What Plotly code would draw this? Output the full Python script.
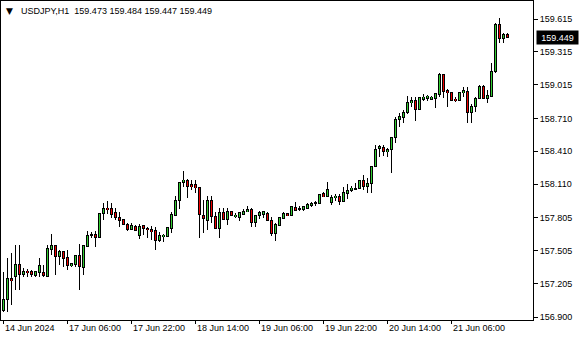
import plotly.graph_objects as go
import pandas as pd

# ---- data (USDJPY, H1) ----
open_ = [156.964, 157.064, 157.253, 157.267, 157.383, 157.289, 157.316, 157.313, 157.274, 157.304,
         157.304, 157.267, 157.517, 157.556, 157.450, 157.495, 157.444, 157.365, 157.383, 157.459,
         157.353, 157.547, 157.647, 157.654, 157.623, 157.845, 157.890, 157.890, 157.854, 157.811,
         157.787, 157.745, 157.699, 157.729, 157.647, 157.732, 157.705, 157.693, 157.684, 157.593,
         157.632, 157.632, 157.708, 157.829, 157.966, 158.127, 158.148, 158.103, 158.103, 158.082,
         157.829, 157.784, 157.966, 157.814, 157.708, 157.854, 157.790, 157.859, 157.814, 157.805,
         157.838, 157.859, 157.884, 157.763, 157.823, 157.836, 157.845, 157.784, 157.663, 157.738,
         157.799, 157.845, 157.829, 157.900, 157.890, 157.881, 157.890, 157.920, 157.936, 157.936,
         158.021, 157.996, 157.941, 157.987, 158.002, 157.951, 158.021, 158.054, 158.064, 158.073,
         158.148, 158.087, 158.118, 158.269, 158.437, 158.446, 158.406, 158.428, 158.537, 158.701,
         158.719, 158.761, 158.852, 158.877, 158.792, 158.883, 158.892, 158.883, 158.892, 158.929,
         159.105, 158.962, 158.944, 158.883, 158.871, 158.944, 158.959, 158.761, 158.816, 158.892,
         158.998, 158.892, 158.913, 159.135, 159.569, 159.439, 159.473]
high = [157.313, 157.435, 157.480, 157.556, 157.556, 157.344, 157.337, 157.328, 157.322, 157.435,
        157.374, 157.556, 157.656, 157.560, 157.511, 157.504, 157.511, 157.389, 157.459, 157.565,
        157.556, 157.684, 157.677, 157.684, 157.845, 157.936, 157.957, 157.936, 157.890, 157.854,
        157.793, 157.754, 157.754, 157.738, 157.745, 157.738, 157.723, 157.732, 157.723, 157.672,
        157.654, 157.723, 157.859, 158.005, 158.127, 158.230, 158.157, 158.148, 158.148, 158.085,
        157.966, 158.005, 158.005, 157.854, 157.890, 157.890, 157.890, 157.866, 157.845, 157.859,
        157.881, 157.914, 157.890, 157.829, 157.866, 157.866, 157.859, 157.814, 157.754, 157.805,
        157.859, 157.848, 157.905, 157.945, 157.911, 157.911, 157.936, 157.945, 157.957, 158.018,
        158.042, 158.127, 158.012, 158.021, 158.021, 158.087, 158.112, 158.094, 158.124, 158.148,
        158.194, 158.164, 158.276, 158.467, 158.467, 158.467, 158.437, 158.543, 158.719, 158.756,
        158.786, 158.913, 158.902, 158.902, 158.902, 158.932, 158.923, 158.913, 158.938, 159.126,
        159.114, 158.974, 158.953, 158.902, 158.953, 158.993, 158.993, 158.841, 158.902, 159.014,
        159.014, 158.968, 159.217, 159.581, 159.621, 159.490, 159.484]
low = [156.948, 156.948, 157.009, 157.146, 157.146, 157.267, 157.267, 157.267, 157.267, 157.267,
       157.267, 157.262, 157.465, 157.283, 157.374, 157.358, 157.328, 157.353, 157.358, 157.146,
       157.283, 157.541, 157.623, 157.541, 157.620, 157.784, 157.836, 157.805, 157.784, 157.723,
       157.738, 157.684, 157.690, 157.684, 157.611, 157.647, 157.617, 157.602, 157.511, 157.581,
       157.586, 157.630, 157.663, 157.823, 157.881, 158.087, 157.987, 158.057, 158.027, 157.623,
       157.663, 157.693, 157.759, 157.702, 157.623, 157.784, 157.738, 157.823, 157.805, 157.775,
       157.829, 157.856, 157.723, 157.723, 157.793, 157.799, 157.775, 157.641, 157.593, 157.735,
       157.793, 157.820, 157.823, 157.869, 157.866, 157.866, 157.884, 157.900, 157.914, 157.927,
       157.991, 157.991, 157.920, 157.960, 157.920, 157.948, 157.972, 158.042, 158.057, 158.070,
       158.057, 158.033, 158.033, 158.266, 158.360, 158.367, 158.360, 158.215, 158.488, 158.628,
       158.665, 158.749, 158.810, 158.688, 158.790, 158.871, 158.871, 158.877, 158.801, 158.902,
       158.892, 158.816, 158.871, 158.862, 158.868, 158.907, 158.665, 158.670, 158.770, 158.883,
       158.883, 158.847, 158.902, 159.126, 159.394, 159.399, 159.447]
close = [157.064, 157.253, 157.231, 157.383, 157.283, 157.319, 157.305, 157.283, 157.313, 157.374,
         157.274, 157.520, 157.556, 157.450, 157.495, 157.435, 157.365, 157.389, 157.459, 157.358,
         157.556, 157.641, 157.656, 157.623, 157.845, 157.890, 157.878, 157.836, 157.805, 157.781,
         157.745, 157.699, 157.732, 157.690, 157.723, 157.708, 157.693, 157.677, 157.593, 157.647,
         157.647, 157.714, 157.836, 157.966, 158.127, 158.148, 158.087, 158.087, 158.078, 157.836,
         157.799, 157.966, 157.814, 157.708, 157.854, 157.790, 157.859, 157.829, 157.829, 157.850,
         157.866, 157.884, 157.763, 157.829, 157.854, 157.859, 157.784, 157.663, 157.745, 157.805,
         157.845, 157.823, 157.905, 157.875, 157.881, 157.905, 157.927, 157.930, 157.945, 158.018,
         157.996, 158.066, 157.991, 158.002, 157.951, 158.033, 158.051, 158.073, 158.073, 158.145,
         158.087, 158.118, 158.270, 158.428, 158.452, 158.406, 158.428, 158.537, 158.701, 158.725,
         158.761, 158.852, 158.877, 158.792, 158.900, 158.902, 158.913, 158.902, 158.932, 159.105,
         158.953, 158.944, 158.874, 158.871, 158.944, 158.962, 158.761, 158.822, 158.892, 158.998,
         158.892, 158.922, 159.141, 159.569, 159.439, 159.473, 159.449]

symbol = "USDJPY,H1"
first_bar = "2024-06-14 14:00"
price_ticks = [156.900, 157.205, 157.505, 157.805, 158.110, 158.410, 158.710, 159.015, 159.315, 159.615]
time_tick_times = ["2024-06-14 14:00", "2024-06-17 06:00", "2024-06-17 22:00", "2024-06-18 14:00",
                   "2024-06-19 06:00", "2024-06-19 22:00", "2024-06-20 14:00", "2024-06-21 06:00"]
time_tick_labels = ["14 Jun 2024", "17 Jun 06:00", "17 Jun 22:00", "18 Jun 14:00",
                    "19 Jun 06:00", "19 Jun 22:00", "20 Jun 14:00", "21 Jun 06:00"]

# ---- build hourly trading bar times (skip weekend) ----
n = len(close)
times = []
t = pd.Timestamp(first_bar)
while len(times) < n:
    if t.weekday() < 5:
        times.append(t)
    t += pd.Timedelta(hours=1)
idx = list(range(n))
tick_idx = [times.index(pd.Timestamp(s)) for s in time_tick_times]

FONT = "Liberation Sans"
GREEN = "#32CD32"
RED = "#F00000"

W, H = 580, 340
ml, mr, mt, mb = 1, 47, 1, 20
bar_px = 4.0      # bar spacing in pixels
first_px = 3.5    # first bar centre
x0 = (ml - first_px) / bar_px
x1 = (W - mr - first_px) / bar_px
y_range = [156.873, 159.779]
px = (y_range[1] - y_range[0]) / (H - mt - mb)   # price per pixel

# wick: 1 px black column from low to high
wick_base = low
wick_h = [h - l for h, l in zip(high, low)]
# body outline: 3 px wide black block; body fill: 1 px wide coloured core
out_base = [min(o, c) - 0.5 * px for o, c in zip(open_, close)]
out_h = [abs(c - o) + px for o, c in zip(open_, close)]
fill_base = [min(o, c) + 0.5 * px for o, c in zip(open_, close)]
fill_h = [max(abs(c - o) - px, 0) for o, c in zip(open_, close)]
fill_col = [GREEN if c >= o else RED for o, c in zip(open_, close)]

fig = go.Figure()
fig.add_trace(go.Bar(x=idx, y=wick_h, base=wick_base, width=0.2,
                     marker=dict(color="black", line=dict(width=0)), hoverinfo="skip"))
fig.add_trace(go.Bar(x=idx, y=out_h, base=out_base, width=0.75,
                     marker=dict(color="black", line=dict(width=0)), hoverinfo="skip"))
fig.add_trace(go.Bar(x=idx, y=fill_h, base=fill_base, width=0.2,
                     marker=dict(color=fill_col, line=dict(width=0)), hoverinfo="skip"))

fig.update_layout(
    width=W, height=H,
    margin=dict(l=ml, r=mr, t=mt, b=mb, pad=0),
    paper_bgcolor="white", plot_bgcolor="white",
    showlegend=False, barmode="overlay", bargap=0, bargroupgap=0,
    font=dict(family=FONT, size=9, color="black"),
    xaxis=dict(range=[x0, x1], showgrid=False, zeroline=False,
               showline=True, mirror=True, linecolor="black", linewidth=1,
               tickvals=tick_idx, ticks="outside", ticklen=3, tickcolor="black",
               showticklabels=False),
    yaxis=dict(range=y_range, side="right", showgrid=False, zeroline=False,
               showline=True, mirror=True, linecolor="black", linewidth=1,
               tickvals=price_ticks, tickformat=".3f", ticks="outside", ticklen=4,
               tickcolor="black", tickfont=dict(family=FONT, size=9, color="black")),
)

ann = []
for i, lab in zip(tick_idx, time_tick_labels):
    ann.append(dict(x=i, y=0, xref="x", yref="paper", text=lab, showarrow=False,
                    xanchor="left", yanchor="top", xshift=-1, yshift=-1,
                    font=dict(family=FONT, size=9, color="black")))
ann.append(dict(x=0, y=1, xref="paper", yref="paper", text="▼", showarrow=False,
                xanchor="left", yanchor="top", xshift=3, yshift=-3,
                font=dict(family="DejaVu Sans", size=9, color="black")))
header = f"{symbol}  {open_[-1]:.3f} {high[-1]:.3f} {low[-1]:.3f} {close[-1]:.3f}"
ann.append(dict(x=0, y=1, xref="paper", yref="paper", text=header, showarrow=False,
                xanchor="left", yanchor="top", xshift=18, yshift=-3,
                font=dict(family=FONT, size=9, color="black")))
ann.append(dict(x=1, y=close[-1], xref="paper", yref="y", text=f"{close[-1]:.3f}",
                showarrow=False, xanchor="left", yanchor="middle", xshift=3,
                width=41, height=13, borderpad=0, bgcolor="black", align="center",
                font=dict(family=FONT, size=9, color="white")))
fig.update_layout(annotations=ann)

fig.write_html("out.html")
